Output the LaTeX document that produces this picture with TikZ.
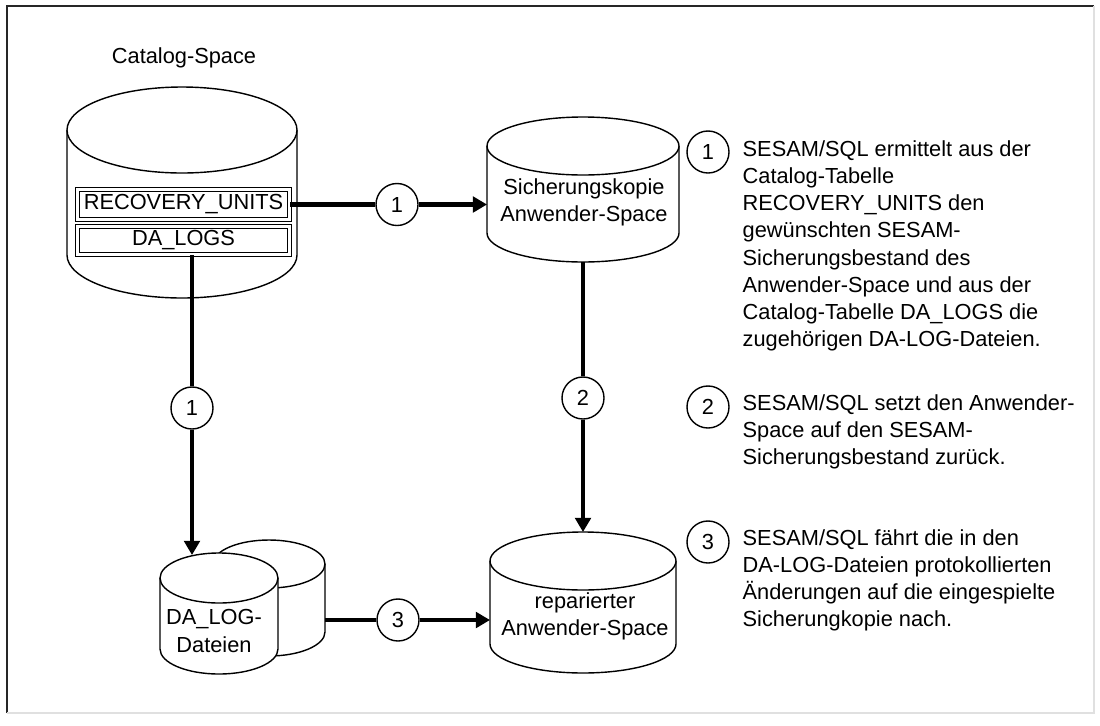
\documentclass[tikz,border=0pt]{standalone}
\usepackage{fontspec}
\setmainfont{Liberation Sans}
\usetikzlibrary{arrows.meta}

% drum: centre x, top y, bottom y, x radius, y radius
\newcommand{\drum}[5]{%
  \draw[fill=white] (#1-#4,#2) -- (#1-#4,#3)
    arc[start angle=180, end angle=0, x radius=#4, y radius=#5] -- (#1+#4,#2);
  \draw[fill=white] (#1,#2) ellipse [x radius=#4, y radius=#5];
}

\tikzset{
  every picture/.style={x=0.025cm, y=-0.025cm, line width=1pt},
  txt/.style={font=\fontsize{15.5}{19.3}\selectfont, align=center, inner sep=0pt},
  legtext/.style={font=\fontsize{15.5}{19.3}\selectfont, align=left, inner sep=0pt, anchor=north west},
  tbl/.style={draw, double, double distance=2.2pt, line width=0.7pt, fill=white,
    minimum width=5.3cm, inner sep=0pt, font=\fontsize{15.5}{19.3}\selectfont},
  num/.style={draw, circle, fill=white, minimum size=1.05cm, inner sep=0pt,
    font=\fontsize{15.5}{19.3}\selectfont},
  flow/.style={line width=2.9pt, -{Triangle[length=10pt, width=11pt]}}
}

\begin{document}
\begin{tikzpicture}
  \useasboundingbox (0,0) rectangle (1100,725);
  %Frame
  \draw[line width=1.3pt, black!85] (7,713) -- (7,6) -- (1094,6);
  \draw[line width=0.8pt, black!12] (1094,6) -- (1094,713) -- (7,713);

  %Catalog space
  \node[txt] (cat) at (184,58) {Catalog-Space};
  \drum{182}{130}{255}{115}{43}
  \node[tbl, minimum height=0.75cm] (ru) at (183.5,204.5) {RECOVERY\textunderscore UNITS};
  \node[tbl, minimum height=0.70cm] (dl) at (183.5,240.5) {DA\textunderscore LOGS};

  %Backup copy
  \drum{583}{146}{233}{96}{29}
  \node[txt] (sk) at (584,202) {Sicherungskopie\\Anwender-Space};
  \coordinate (sk-west) at (487,204.5);
  \coordinate (sk-bot) at (583,262);

  %Log files
  \drum{269}{564}{632}{56}{24}
  \drum{219}{578}{649}{59}{25}
  \node[txt] (lg) at (214,631) {DA\textunderscore LOG-\\Dateien};
  \coordinate (lg-tip) at (192,555);
  \coordinate (lg-east) at (325,620);

  %Repaired space
  \drum{583}{561}{644}{93}{29}
  \node[txt] (rep) at (585,616) {reparierter\\Anwender-Space};
  \coordinate (rep-top) at (583,532);
  \coordinate (rep-west) at (490,620);

  %Steps
  \node[num] (c1a) at (397,204.5) {1};
  \node[num] (c1b) at (192,408) {1};
  \node[num] (c2a) at (583,398) {2};
  \node[num] (c3a) at (398,620) {3};
  \draw[flow] (ru.east) -- (c1a) -- (sk-west);
  \draw[flow] (dl.south -| lg-tip) -- (c1b) -- (lg-tip);
  \draw[flow] (sk-bot) -- (c2a) -- (rep-top);
  \draw[flow] (lg-east) -- (c3a) -- (rep-west);

  %Legend
  \node[num] (k1) at (708,152) {1};
  \node[num] (k2) at (708,407) {2};
  \node[num] (k3) at (708,542) {3};
  \node[legtext] (t1) at (742,140) {SESAM/SQL ermittelt aus der\\Catalog-Tabelle\\RECOVERY\textunderscore UNITS den\\gewünschten SESAM-\\Sicherungsbestand des\\Anwender-Space und aus der\\Catalog-Tabelle DA\textunderscore LOGS die\\zugehörigen DA-LOG-Dateien.};
  \node[legtext] (t2) at (742,394) {SESAM/SQL setzt den Anwender-\\Space auf den SESAM-\\Sicherungsbestand zurück.};
  \node[legtext] (t3) at (742,529) {SESAM/SQL fährt die in den\\DA-LOG-Dateien protokollierten\\Änderungen auf die eingespielte\\Sicherungkopie nach.};
\end{tikzpicture}
\end{document}
